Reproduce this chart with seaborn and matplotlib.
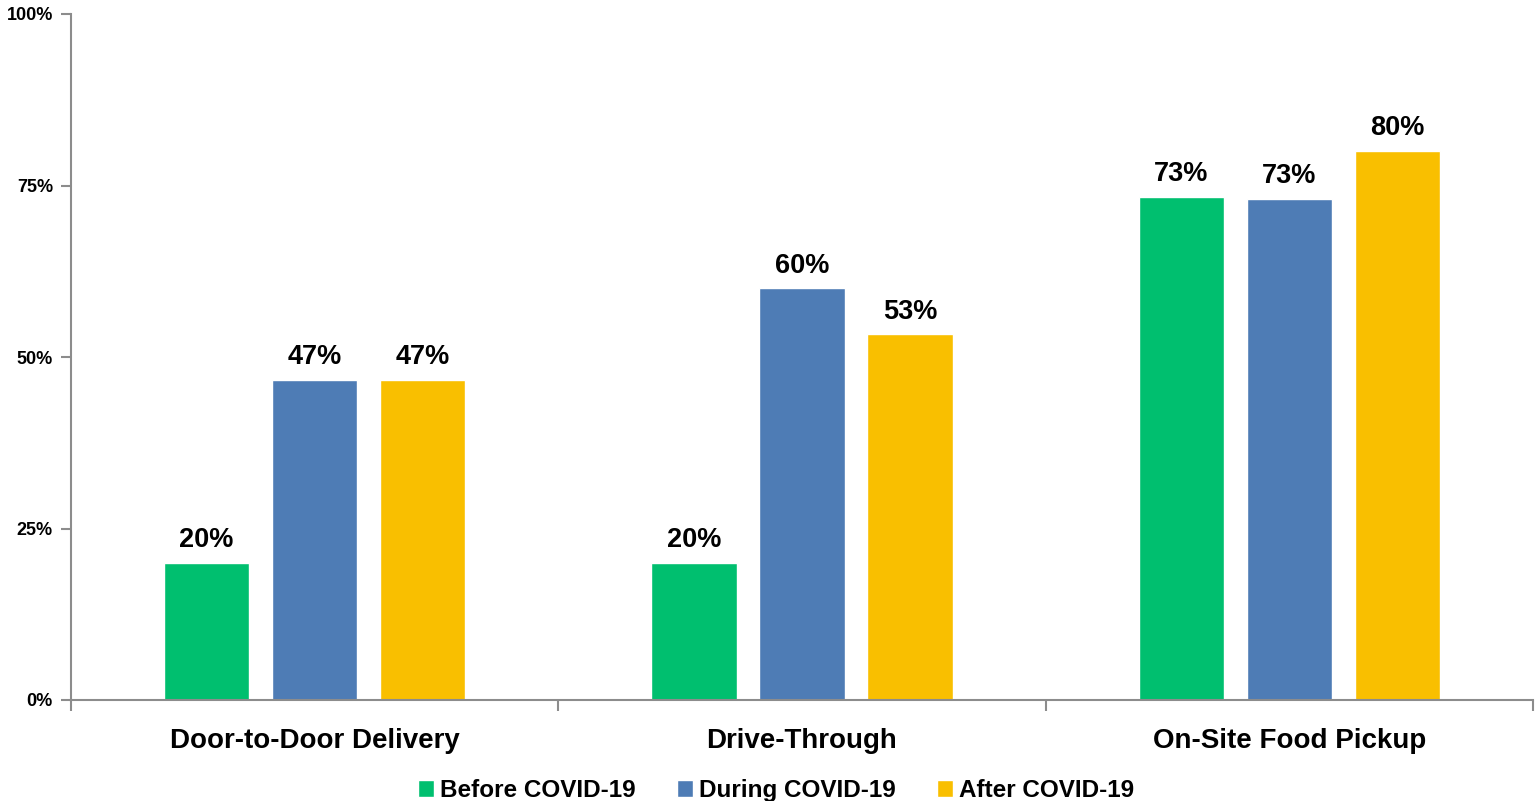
import matplotlib
matplotlib.use("Agg")
import matplotlib.pyplot as plt
import seaborn as sns
import pandas as pd
from matplotlib.ticker import FixedLocator, PercentFormatter

categories = ["Door-to-Door Delivery", "Drive-Through", "On-Site Food Pickup"]
series = ["Before COVID-19", "During COVID-19", "After COVID-19"]
before = [20.0, 20.0, 73.3]
during = [46.7, 60.0, 73.0]
after = [46.7, 53.3, 80.0]
colors = ["#00BF6F", "#4E7CB5", "#F9BF00"]
yticks = [0, 25, 50, 75, 100]

rows = []
for s, vals in zip(series, [before, during, after]):
    for c, v in zip(categories, vals):
        rows.append({"category": c, "series": s, "value": v})
df = pd.DataFrame(rows)

sns.set_theme(style="white")
plt.rcParams["font.family"] = ["Liberation Sans", "DejaVu Sans"]
plt.rcParams["font.weight"] = "bold"
plt.rcParams["text.color"] = "black"
plt.rcParams["xtick.color"] = "black"
plt.rcParams["ytick.color"] = "black"

fig = plt.figure(figsize=(15.37, 8.01), dpi=100)
ax = fig.add_axes([71 / 1537, 1 - 700 / 801, (1533 - 71) / 1537, (700 - 14) / 801])

sns.barplot(data=df, x="category", y="value", hue="series", order=categories,
            hue_order=series, palette=colors, width=0.665, gap=0.21,
            saturation=1, legend=False, ax=ax)

for cont in ax.containers:
    ax.bar_label(cont, fmt="{:.0f}%", padding=7, fontsize=19.5, fontweight="bold", color="black")

ax.set_xlim(-0.5, 2.5)
ax.set_ylim(0, 100)
ax.set_yticks(yticks)
ax.yaxis.set_major_formatter(PercentFormatter(decimals=0))
ax.set_xlabel("")
ax.set_ylabel("")

spine_color = "#8C8C8C"
for side in ["top", "right"]:
    ax.spines[side].set_visible(False)
for side in ["left", "bottom"]:
    ax.spines[side].set_color(spine_color)
    ax.spines[side].set_linewidth(1.5)

ax.tick_params(axis="y", which="major", direction="out", length=7, width=1.5,
               color=spine_color, left=True, labelsize=13, pad=6, labelcolor="black")
ax.tick_params(axis="x", which="major", length=0, labelsize=20, pad=20, labelcolor="black")
ax.xaxis.set_minor_locator(FixedLocator([-0.5, 0.5, 1.5, 2.5]))
ax.tick_params(axis="x", which="minor", direction="out", length=8, width=1.5,
               color=spine_color, bottom=True)
for lbl in ax.get_xticklabels() + ax.get_yticklabels():
    lbl.set_fontweight("bold")

handles = [c.patches[0] for c in ax.containers]
leg = fig.legend(handles, series, loc="center", bbox_to_anchor=(0.505, 0.013), ncol=3,
                 frameon=False, fontsize=17.5, handlelength=0.65, handleheight=0.65,
                 handletextpad=0.25, columnspacing=1.7, borderaxespad=0)
for t in leg.get_texts():
    t.set_color("black")

fig.savefig("out.png", dpi=100)
